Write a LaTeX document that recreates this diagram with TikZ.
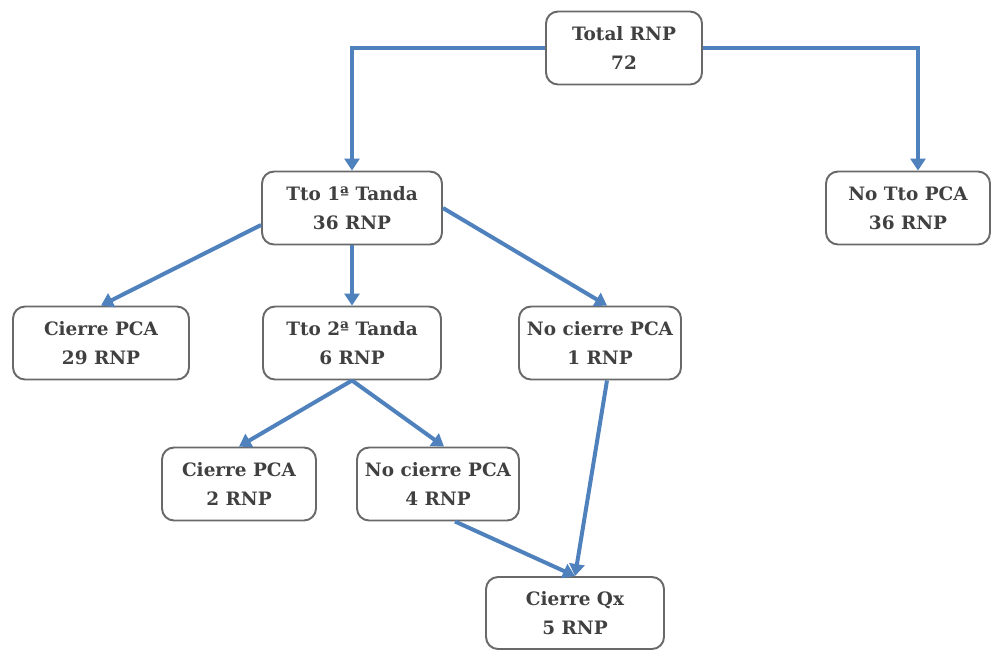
\documentclass[tikz,border=0pt]{standalone}
\usepackage{fontspec}
\setmainfont{DejaVu Serif}
\usepackage{tikz}
\usetikzlibrary{arrows.meta, positioning, calc}
\usepackage{xcolor}
\definecolor{ArrBlue}{RGB}{79, 129, 189}
\definecolor{BoxGray}{RGB}{105, 105, 105}
\definecolor{TextGray}{RGB}{64, 64, 64}

\begin{document}
\begin{tikzpicture}[
      x=0.02cm, y=-0.02cm,
      box/.style={draw=BoxGray, line width=1.1pt, rounded corners=0.24cm,
                  fill=white, minimum height=1.46cm, align=center,
                  text=TextGray, inner sep=2pt,
                  font=\fontsize{10.5}{16.5}\selectfont\bfseries},
      arr/.style={-{Triangle[length=0.24cm, width=0.3cm]}, line width=0.08cm,
                  ArrBlue}
    ]
      \useasboundingbox (0,0) rectangle (993,650);

      \node[box, minimum width=3.12cm] (tot) at (624,48) {Total RNP\\72};
      \node[box, minimum width=3.6cm] (tto1) at (352,208) {Tto 1ª Tanda\\36 RNP};
      \node[box, minimum width=3.28cm] (notto) at (908,208) {No Tto PCA\\36 RNP};
      \node[box, minimum width=3.52cm] (cierreA) at (101,343) {Cierre PCA\\29 RNP};
      \node[box, minimum width=3.56cm] (tto2) at (352,343) {Tto 2ª Tanda\\6 RNP};
      \node[box, minimum width=3.24cm] (nocierreA) at (600,343) {No cierre PCA\\1 RNP};
      \node[box, minimum width=3.08cm] (cierreB) at (239,484) {Cierre PCA\\2 RNP};
      \node[box, minimum width=3.24cm] (nocierreB) at (438,484) {No cierre PCA\\4 RNP};
      \node[box, minimum width=3.56cm, minimum height=1.44cm] (qx) at (575,613) {Cierre Qx\\5 RNP};

      \draw[arr] (tot.west) -| (tto1.north);
      \draw[arr] (tot.east) -| ([xshift=0.2cm]notto.north);
      \draw[arr] ([yshift=-0.34cm]tto1.west) -- (cierreA.north);
      \draw[arr] (tto1.south) -- (tto2.north);
      \draw[arr] (tto1.east) -- ([xshift=0.14cm]nocierreA.north);
      \draw[arr] (tto2.south) -- (cierreB.north);
      \draw[arr] (tto2.south) -- ([xshift=0.12cm]nocierreB.north);
      \draw[arr] ([xshift=0.14cm]nocierreA.south) -- (qx.north);
      \draw[arr] ([xshift=0.34cm]nocierreB.south) -- (qx.north);
    \end{tikzpicture}
\end{document}
